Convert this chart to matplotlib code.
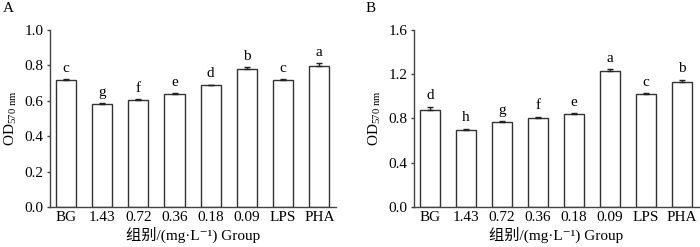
import matplotlib
matplotlib.use("Agg")
import matplotlib.pyplot as plt
import numpy as np

plt.rcParams['font.family'] = ['Liberation Serif', 'Noto Sans CJK SC', 'DejaVu Serif']
plt.rcParams['mathtext.fontset'] = 'custom'
plt.rcParams['mathtext.rm'] = 'Liberation Serif'
plt.rcParams['mathtext.it'] = 'Liberation Serif:italic'

groups = ["BG", "1.43", "0.72", "0.36", "0.18", "0.09", "LPS", "PHA"]

values_a = [0.716, 0.583, 0.604, 0.641, 0.687, 0.782, 0.716, 0.797]
errors_a = [0.007, 0.006, 0.005, 0.004, 0.005, 0.008, 0.007, 0.015]
letters_a = ["c", "g", "f", "e", "d", "b", "c", "a"]

values_b = [0.878, 0.699, 0.766, 0.809, 0.842, 1.229, 1.017, 1.127]
errors_b = [0.030, 0.010, 0.010, 0.008, 0.010, 0.015, 0.012, 0.025]
letters_b = ["d", "h", "g", "f", "e", "a", "c", "b"]

fig = plt.figure(figsize=(7.0, 2.47), dpi=100)
ax_a = fig.add_axes([0.0714, 0.162, 0.4086, 0.7165])
ax_b = fig.add_axes([0.5914, 0.162, 0.4066, 0.7165])

fs = 11
spine_col = '#444444'

def draw(ax, vals, errs, letters, ymax, yticks):
    x = np.arange(len(groups))
    ax.bar(x, vals, width=0.56, color='white', edgecolor='#333333', linewidth=1.0, zorder=2)
    ax.errorbar(x, vals, yerr=[np.zeros(len(errs)), errs], fmt='none',
                ecolor='#222222', elinewidth=1.0, capsize=2.2, capthick=1.0, zorder=3)
    for xi, v, e, l in zip(x, vals, errs, letters):
        ax.annotate(l, (xi, v + e), xytext=(0, 3), textcoords='offset points',
                    ha='center', va='bottom', fontsize=fs)
    ax.set_xlim(-0.44, 7.46)
    ax.set_ylim(0, ymax)
    ax.set_yticks(yticks)
    ax.set_yticklabels([f"{t:.1f}" for t in yticks])
    ax.set_xticks(x)
    ax.set_xticklabels(groups)
    for s in ['top', 'right']:
        ax.spines[s].set_visible(False)
    for s in ['left', 'bottom']:
        ax.spines[s].set_color(spine_col)
        ax.spines[s].set_linewidth(1.0)
    ax.tick_params(axis='y', direction='out', length=2.5, width=1.0, color=spine_col,
                   labelsize=fs, pad=2)
    ax.tick_params(axis='x', length=0, labelsize=fs, pad=3)
    ax.set_xlabel("组别/(mg·L⁻¹) Group", fontsize=fs, labelpad=2)
    ax.set_ylabel(r"OD$_{\mathrm{570\ nm}}$", fontsize=fs, labelpad=4)

draw(ax_a, values_a, errors_a, letters_a, 1.0, [0.0, 0.2, 0.4, 0.6, 0.8, 1.0])
draw(ax_b, values_b, errors_b, letters_b, 1.6, [0.0, 0.4, 0.8, 1.2, 1.6])

fig.text(0.004, 0.99, "A", fontsize=fs, ha='left', va='top')
fig.text(0.522, 0.99, "B", fontsize=fs, ha='left', va='top')

fig.savefig("out.png", dpi=100)
